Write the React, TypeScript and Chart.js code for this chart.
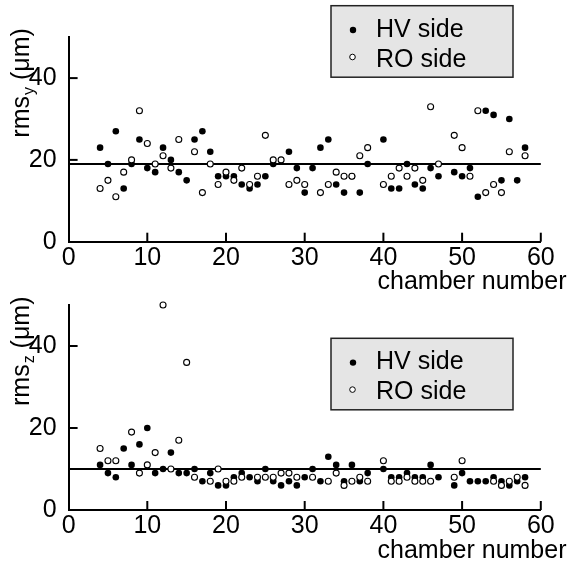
import React, { useEffect, useRef } from "react";
import { Chart, registerables } from "chart.js";

Chart.register(...registerables);

// ---- data: rms_y (top panel) ----
const Y_HV_CHAMBER = [4, 5, 6, 7, 8, 9, 10, 11, 12, 13, 14, 15, 16, 17, 18, 19, 20, 21, 22, 23, 24, 25, 26, 28, 29, 30, 31, 32, 33, 34, 35, 36, 37, 38, 40, 41, 42, 43, 44, 45, 46, 47, 49, 50, 51, 52, 53, 54, 55, 56, 57, 58];
const Y_HV_RMS = [23, 19, 27, 13, 19, 25, 18, 17, 23, 20, 17, 15, 25, 27, 22, 16, 16, 16, 14, 13, 14, 16, 19, 22, 18, 12, 18, 23, 25, 14, 12, 16, 12, 19, 25, 13, 13, 19, 14, 13, 18, 16, 17, 16, 18, 11, 32, 31, 15, 30, 15, 23];
const Y_RO_CHAMBER = [4, 5, 6, 7, 8, 9, 10, 11, 12, 13, 14, 16, 17, 18, 19, 20, 21, 22, 23, 24, 25, 26, 27, 28, 29, 30, 32, 33, 34, 35, 36, 37, 38, 40, 41, 42, 43, 44, 45, 46, 47, 49, 50, 51, 52, 53, 54, 55, 56, 58];
const Y_RO_RMS = [13, 15, 11, 17, 20, 32, 24, 19, 21, 18, 25, 22, 12, 19, 14, 17, 15, 18, 14, 16, 26, 20, 20, 14, 15, 14, 12, 14, 17, 16, 16, 21, 23, 14, 16, 18, 16, 18, 15, 33, 19, 26, 23, 16, 32, 12, 14, 12, 22, 21];
const Y_REFERENCE = 19;

// ---- data: rms_z (bottom panel) ----
const Z_HV_CHAMBER = [4, 5, 6, 7, 8, 9, 10, 11, 12, 13, 14, 15, 16, 17, 18, 19, 20, 21, 22, 23, 24, 25, 26, 27, 28, 29, 30, 31, 32, 33, 34, 35, 36, 37, 38, 40, 41, 42, 43, 44, 45, 46, 47, 49, 50, 51, 52, 53, 54, 55, 56, 57, 58];
const Z_HV_RMS = [11, 9, 8, 15, 11, 16, 20, 9, 10, 14, 9, 9, 10, 7, 9, 6, 6, 8, 9, 8, 7, 10, 7, 6, 7, 6, 8, 10, 7, 13, 11, 7, 11, 7, 9, 10, 8, 8, 9, 8, 8, 11, 8, 6, 9, 7, 7, 7, 8, 7, 6, 7, 8];
const Z_RO_CHAMBER = [4, 5, 6, 8, 9, 10, 11, 12, 13, 14, 15, 16, 18, 19, 20, 21, 22, 24, 25, 26, 27, 28, 29, 31, 33, 34, 35, 36, 37, 38, 40, 41, 42, 43, 44, 45, 46, 49, 50, 54, 55, 56, 57, 58];
const Z_RO_RMS = [15, 12, 12, 19, 9, 11, 14, 50, 10, 17, 36, 8, 7, 10, 7, 7, 8, 8, 8, 8, 9, 9, 8, 8, 7, 9, 6, 7, 8, 7, 12, 7, 7, 8, 7, 7, 7, 8, 12, 7, 6, 7, 8, 6];
const Z_REFERENCE = 10;

// ---- axes & labels ----
const X_MIN = 0;
const X_MAX = 60;
const X_STEP = 10;
const Y_MIN = 0;
const Y_MAX = 50;
const Y_TICKS = [0, 20, 40];
const X_TITLE = "chamber number";
const SERIES_LABELS = ["HV side", "RO side"];

const FONT = '"Liberation Sans", Arial, Helvetica, sans-serif';
const W = 568;

type PanelOpts = {
  hvX: number[];
  hvY: number[];
  roX: number[];
  roY: number[];
  ref: number;
  sub: string;
  height: number;
  areaTop: number;
  areaBottom: number;
  legendTop: number;
};

function makePanel(canvas: HTMLCanvasElement, o: PanelOpts) {
  const hvData = o.hvX.map((x, i) => ({ x, y: o.hvY[i] }));
  const roData = o.roX.map((x, i) => ({ x, y: o.roY[i] }));
  const refData = [
    { x: X_MIN, y: o.ref },
    { x: X_MAX, y: o.ref },
  ];

  const decor = {
    id: "decor",
    afterDraw(chart: any) {
      const ctx = chart.ctx as CanvasRenderingContext2D;
      const xs = chart.scales.x;
      const ys = chart.scales.y;
      const a = chart.chartArea;
      ctx.save();
      ctx.strokeStyle = "#000";
      ctx.lineWidth = 2;
      // inward tick marks
      for (let v = X_MIN + X_STEP; v <= X_MAX; v += X_STEP) {
        const px = xs.getPixelForValue(v);
        ctx.beginPath();
        ctx.moveTo(px, a.bottom);
        ctx.lineTo(px, a.bottom - 9);
        ctx.stroke();
      }
      Y_TICKS.forEach((v) => {
        if (v === Y_MIN) return;
        const py = ys.getPixelForValue(v);
        ctx.beginPath();
        ctx.moveTo(a.left, py);
        ctx.lineTo(a.left + 9, py);
        ctx.stroke();
      });

      // x title
      ctx.fillStyle = "#000";
      ctx.font = `25px ${FONT}`;
      ctx.textAlign = "right";
      ctx.textBaseline = "alphabetic";
      ctx.fillText(X_TITLE, 566.5, a.bottom + 47.5);

      // legend box
      const lx = 331;
      const lw = 182;
      const lh = 71.5;
      const lt = o.legendTop;
      ctx.fillStyle = "#e5e5e5";
      ctx.fillRect(lx, lt, lw, lh);
      ctx.lineWidth = 1.5;
      ctx.strokeStyle = "#222";
      ctx.strokeRect(lx, lt, lw, lh);
      // HV entry
      ctx.fillStyle = "#000";
      ctx.beginPath();
      ctx.arc(353, lt + 24.3, 3.2, 0, Math.PI * 2);
      ctx.fill();
      // RO entry
      ctx.beginPath();
      ctx.arc(352.5, lt + 51.3, 2.8, 0, Math.PI * 2);
      ctx.fillStyle = "#fff";
      ctx.fill();
      ctx.lineWidth = 1;
      ctx.strokeStyle = "#000";
      ctx.stroke();
      ctx.fillStyle = "#000";
      ctx.font = `25px ${FONT}`;
      ctx.textAlign = "left";
      ctx.fillText(SERIES_LABELS[0], 376, lt + 31);
      ctx.fillText(SERIES_LABELS[1], 376, lt + 61);

      // y title with subscript
      ctx.translate(28.5, a.bottom - 104);
      ctx.rotate(-Math.PI / 2);
      ctx.textAlign = "left";
      ctx.font = `25px ${FONT}`;
      ctx.fillText("rms", 0, 0);
      let w = ctx.measureText("rms").width;
      ctx.font = `16px ${FONT}`;
      ctx.fillText(o.sub, w + 1, 5);
      w += ctx.measureText(o.sub).width + 1;
      ctx.font = `25px ${FONT}`;
      ctx.fillText(" (\u03bcm)", w, 0);
      ctx.restore();
    },
  };

  return new Chart(canvas, {
    type: "scatter",
    data: {
      datasets: [
        {
          label: SERIES_LABELS[1],
          data: roData,
          backgroundColor: "#fff",
          borderColor: "#000",
          pointRadius: 3,
          pointBorderWidth: 1.1,
          order: 1,
          clip: false as any,
        },
        {
          label: SERIES_LABELS[0],
          data: hvData,
          backgroundColor: "#000",
          borderColor: "#000",
          pointRadius: 3.3,
          pointBorderWidth: 0,
          order: 2,
          clip: false as any,
        },
        {
          label: "reference",
          data: refData,
          showLine: true,
          borderColor: "#000",
          borderWidth: 2,
          pointRadius: 0,
          order: 3,
          clip: false as any,
        } as any,
      ],
    },
    options: {
      responsive: false,
      animation: false,
      events: [],
      layout: {
        padding: { top: o.areaTop, right: 27.2, left: 0, bottom: 0 },
      },
      plugins: {
        legend: { display: false },
        tooltip: { enabled: false },
        title: { display: false },
      },
      scales: {
        x: {
          type: "linear",
          min: X_MIN,
          max: X_MAX,
          grid: { display: false },
          border: { display: true, color: "#000", width: 2 },
          ticks: {
            stepSize: X_STEP,
            color: "#000",
            font: { family: FONT, size: 25 },
            padding: -7,
            maxRotation: 0,
          },
          afterFit: (s: any) => {
            s.height = o.height - o.areaBottom;
          },
        },
        y: {
          type: "linear",
          min: Y_MIN,
          max: Y_MAX,
          grid: { display: false },
          border: { display: true, color: "#000", width: 2 },
          ticks: {
            color: "#000",
            font: { family: FONT, size: 25 },
            padding: 4,
          },
          afterBuildTicks: (s: any) => {
            s.ticks = Y_TICKS.map((v) => ({ value: v }));
          },
          afterFit: (s: any) => {
            s.width = 68.6;
          },
        },
      },
    },
    plugins: [decor],
  });
}

export default function App() {
  const topRef = useRef<HTMLCanvasElement>(null);
  const botRef = useRef<HTMLCanvasElement>(null);

  useEffect(() => {
    const c1 = makePanel(topRef.current!, {
      hvX: Y_HV_CHAMBER,
      hvY: Y_HV_RMS,
      roX: Y_RO_CHAMBER,
      roY: Y_RO_RMS,
      ref: Y_REFERENCE,
      sub: "y",
      height: 300,
      areaTop: 37.2,
      areaBottom: 241.7,
      legendTop: 5.7,
    });
    const c2 = makePanel(botRef.current!, {
      hvX: Z_HV_CHAMBER,
      hvY: Z_HV_RMS,
      roX: Z_RO_CHAMBER,
      roY: Z_RO_RMS,
      ref: Z_REFERENCE,
      sub: "z",
      height: 283,
      areaTop: 25,
      areaBottom: 230,
      legendTop: 58.3,
    });
    return () => {
      c1.destroy();
      c2.destroy();
    };
  }, []);

  return (
    <div style={{ position: "absolute", left: 0, top: 0, width: W, height: 563, background: "#fff" }}>
      <canvas ref={topRef} width={W} height={300} style={{ position: "absolute", left: 0, top: 0 }} />
      <canvas ref={botRef} width={W} height={283} style={{ position: "absolute", left: 0, top: 280 }} />
    </div>
  );
}
